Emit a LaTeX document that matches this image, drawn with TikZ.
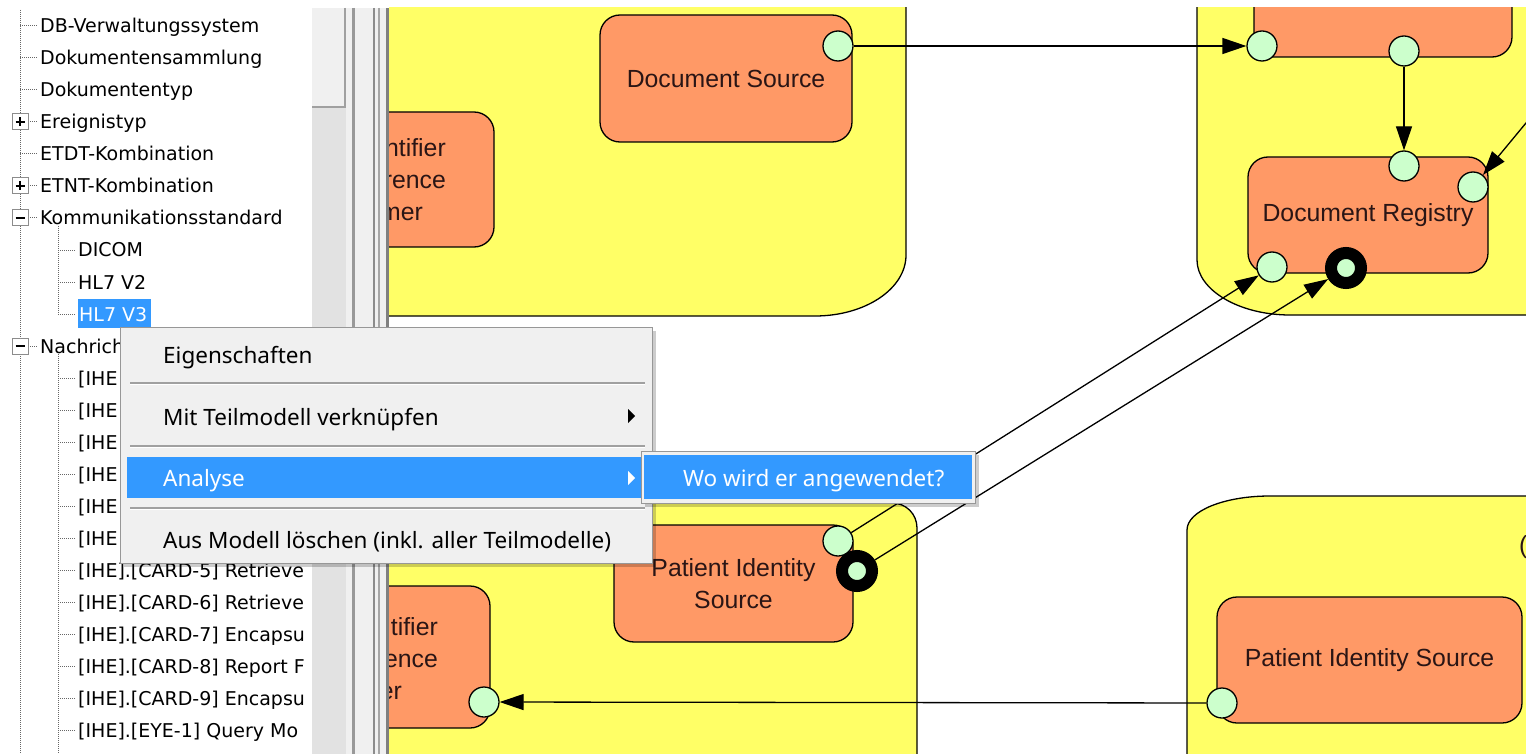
\documentclass[tikz,border=0pt]{standalone}
\usepackage{fontspec}
\setmainfont{Liberation Sans}
\newfontfamily\baumschrift{DejaVu Sans}
\newfontfamily\menueschrift{Noto Sans}
\usetikzlibrary{arrows.meta,positioning,calc}
\definecolor{mygelb}{HTML}{FFFF66}
\definecolor{mylachs}{HTML}{FF9966}
\definecolor{mygruen}{HTML}{CCFFCC}
\definecolor{myblau}{HTML}{3399FF}
\definecolor{mymenue}{HTML}{F0F0F0}
\definecolor{myrand}{HTML}{979797}
\definecolor{myspur}{HTML}{E2E2E2}
\definecolor{mytrenner}{HTML}{A0A0A0}
\definecolor{myschrift}{HTML}{2A1515}
\tikzset{
  behaelter/.style={draw=black, line width=1.3pt, fill=mygelb},
  akteur/.style={draw=black, line width=1.3pt, fill=mylachs, rounded corners=20pt, align=center, inner sep=0pt, text=myschrift, font=\fontsize{24.8}{32}\selectfont},
  akteurtext/.style={inner sep=0pt, align=right, text=myschrift, font=\fontsize{24.8}{32}\selectfont},
  anschluss/.style={circle, draw=black, line width=1.3pt, fill=mygruen, minimum size=30pt, inner sep=0pt},
  ring/.style={circle, draw=black, line width=12pt, fill=mygruen, minimum size=30pt, inner sep=0pt},
  pfeil/.style={draw=black, line width=1.3pt, -{Triangle[length=24pt,width=16pt]}},
  baumtext/.style={anchor=base west, inner sep=0pt, font=\baumschrift\fontsize{19}{22}\selectfont},
  baumlinie/.style={draw=black!60, line width=1pt, dash pattern=on 1pt off 1pt},
  knopf/.style={draw=black!45, fill=white, line width=1pt, minimum size=16pt, inner sep=0pt},
  menuetext/.style={anchor=base west, inner sep=0pt, font=\menueschrift\fontsize{22.5}{26}\selectfont},
  trenner/.style={draw=mytrenner, line width=1.2pt},
}
\begin{document}
\begin{tikzpicture}[x=1pt, y=-1pt]
		%% Groesse des Bildes festlegen, weisser Hintergrund
		\useasboundingbox[fill=white] (0,0) rectangle (1526,754);
		%% Baum links, alles rechts von der Bildlaufleiste wird abgeschnitten
		\begin{scope}
			\clip (0,8) rectangle (312,754);
			\draw[baumlinie] (20,10) -- (20,754);
			\draw[baumlinie] (58,226) -- (58,314) (58,354) -- (58,754);
			\draw[baumlinie] (20,26) -- (38,26) (20,58) -- (38,58) (20,90) -- (38,90) (28,122) -- (38,122) (20,154) -- (38,154) (28,186) -- (38,186) (28,218) -- (38,218) (28,346) -- (38,346);
			\draw[baumlinie] (58,250) -- (76,250) (58,282) -- (76,282) (58,314) -- (76,314) (58,378) -- (76,378) (58,410) -- (76,410) (58,442) -- (76,442) (58,474) -- (76,474) (58,506) -- (76,506) (58,538) -- (76,538) (58,570) -- (76,570) (58,602) -- (76,602) (58,634) -- (76,634) (58,666) -- (76,666) (58,698) -- (76,698) (58,730) -- (76,730);
			%% Knoepfe zum Auf- und Zuklappen
			\node[knopf] (kereignis) at (20,122) {};
			\draw[line width=1.6pt] (15.5,122) -- (24.5,122) (20,117.5) -- (20,126.5);
			\node[knopf] (ketnt) at (20,186) {};
			\draw[line width=1.6pt] (15.5,186) -- (24.5,186) (20,181.5) -- (20,190.5);
			\node[knopf] (kkomm) at (20,218) {};
			\draw[line width=1.6pt] (15.5,218) -- (24.5,218);
			\node[knopf] (knachr) at (20,346) {};
			\draw[line width=1.6pt] (15.5,346) -- (24.5,346);
			%% Eintraege
			\node[baumtext] (dbvs) at (40,33) {DB-Verwaltungssystem};
			\node[baumtext] (doksamm) at (40,65) {Dokumentensammlung};
			\node[baumtext] (doktyp) at (40,97) {Dokumententyp};
			\node[baumtext] (ereignis) at (40,129) {Ereignistyp};
			\node[baumtext] (etdt) at (40,161) {ETDT-Kombination};
			\node[baumtext] (etnt) at (40,193) {ETNT-Kombination};
			\node[baumtext] (komm) at (40,225) {Kommunikationsstandard};
			\node[baumtext] (dicom) at (78,257) {DICOM};
			\node[baumtext] (hlzwei) at (78,289) {HL7 V2};
			\fill[myblau] (78,299) rectangle (151,328);
			\node[baumtext, text=white] (hldrei) at (79,321) {HL7 V3};
			\node[baumtext] (nachr) at (40,353) {Nachrich};
			\node[baumtext] (iheeins) at (78,385) {[IHE};
			\node[baumtext] (ihezwei) at (78,417) {[IHE};
			\node[baumtext] (ihedrei) at (78,449) {[IHE};
			\node[baumtext] (ihevier) at (78,481) {[IHE};
			\node[baumtext] (ihefuenf) at (78,513) {[IHE};
			\node[baumtext] (ihesechs) at (78,545) {[IHE};
			\node[baumtext] (cardfuenf) at (78,577) {[IHE].[CARD-5] Retrieve};
			\node[baumtext] (cardsechs) at (78,609) {[IHE].[CARD-6] Retrieve};
			\node[baumtext] (cardsieben) at (78,641) {[IHE].[CARD-7] Encapsu};
			\node[baumtext] (cardacht) at (78,673) {[IHE].[CARD-8] Report F};
			\node[baumtext] (cardneun) at (78,705) {[IHE].[CARD-9] Encapsu};
			\node[baumtext] (eyeeins) at (78,737) {[IHE].[EYE-1] Query Mo};
		\end{scope}
		%% Bildlaufleiste und Trennleiste
		\fill[myspur] (312,8) rectangle (346,754);
		\fill[mymenue] (312,8) rectangle (345,107);
		\draw[mytrenner, line width=2pt] (345,8) -- (345,107) -- (312,107);
		\fill[mymenue] (346,8) rectangle (389,754);
		\draw[black!40, line width=2.5pt] (353.5,8) -- (353.5,754);
		\draw[black!45, line width=2pt] (374,8) -- (374,754);
		\draw[black!35, line width=2pt] (378.5,8) -- (378.5,754);
		\draw[black!50, line width=2.5pt] (387.5,8) -- (387.5,754);
		%% Diagramm rechts
		\begin{scope}
			\clip (389,8) rectangle (1526,754);
			%% gelbe Behaelter
			\draw[behaelter] (370,-10) -- (906,-10) -- (906,255) .. controls (906,289) and (865,316) .. (815,316) -- (370,316) -- cycle;
			\draw[behaelter] (1545,-10) -- (1197,-10) -- (1197,260) .. controls (1197,290) and (1239,315) .. (1290,315) -- (1545,315) -- cycle;
			\draw[behaelter] (370,503) -- (892,503) .. controls (906,503) and (917,514) .. (917,528) -- (917,770) -- (370,770) -- cycle;
			\draw[behaelter] (1545,496) -- (1270,496) .. controls (1224,496) and (1187,511) .. (1187,530) -- (1187,770) -- (1545,770) -- cycle;
			\node[anchor=west, inner sep=0pt, text=myschrift, font=\fontsize{24.8}{32}\selectfont] (klammer) at (1519,547) {(};
			%% Akteure
			\node[akteur, minimum width=272pt, minimum height=135pt] (pixoben) at (358,179.5) {};
			\node[akteurtext, anchor=east] (pixobentext) at (446,180) {ntifier\\rence\\mer\hspace*{23pt}};
			\node[akteur, minimum width=252pt, minimum height=127pt] (docsrc) at (726,78.5) {Document Source};
			\node[akteur, minimum width=258pt, minimum height=100pt] (repo) at (1383,7) {};
			\node[akteur, minimum width=240pt, minimum height=116pt] (registry) at (1368,215) {Document Registry};
			\node[akteur, minimum width=239pt, minimum height=117pt] (pislinks) at (733.5,583.5) {Patient Identity\\Source};
			\node[akteur, minimum width=280pt, minimum height=142pt] (pixunten) at (350,657) {};
			\node[akteurtext, anchor=east] (pixuntentext) at (438,659) {tifier\\ence\\mer\hspace*{36pt}};
			\node[akteur, minimum width=305pt, minimum height=126pt] (pisrechts) at (1369.5,660) {Patient Identity Source};
			%% Anschluesse
			\node[anschluss] (dsaus) at (838,46) {};
			\node[anschluss] (repoein) at (1262,46) {};
			\node[anschluss] (repoaus) at (1404,51) {};
			\node[anschluss] (regoben) at (1404,166) {};
			\node[anschluss] (regrechts) at (1473,187) {};
			\node[anschluss] (reglinks) at (1272,267) {};
			\node[ring] (regring) at (1346,268) {};
			\node[anschluss] (pisaus) at (838,541) {};
			\node[ring] (pisring) at (857,571) {};
			\node[anschluss] (pixein) at (484,702) {};
			\node[anschluss] (pisrechtsaus) at (1222,703) {};
			\coordinate (rechtsaussen) at (1545,100);
			%% Verbindungen
			\draw[pfeil] (dsaus) -- (repoein);
			\draw[pfeil] (repoaus) -- (regoben);
			\draw[pfeil] (rechtsaussen) -- (regrechts);
			\draw[pfeil] (pisaus) -- (reglinks);
			\draw[pfeil] (pisring) -- (regring);
			\draw[pfeil] (pisrechtsaus) -- (pixein);
		\end{scope}
		%% Kontextmenue mit Schatten
		\fill[black, opacity=.2] (124,331) rectangle (656,567);
		\draw[fill=mymenue, draw=myrand, line width=1pt] (120,327) rectangle (652,563);
		\draw[trenner] (130,383) -- (645,383) (130,446) -- (645,446) (130,508) -- (645,508);
		\draw[white, line width=1pt] (130,384.5) -- (645,384.5) (130,447.5) -- (645,447.5) (130,509.5) -- (645,509.5);
		\fill[myblau] (127,457) rectangle (647,498);
		\node[menuetext] (eigen) at (163,363) {Eigenschaften};
		\node[menuetext] (teilmodell) at (163,425) {Mit Teilmodell verknüpfen};
		\node[menuetext, text=white] (analyse) at (163,486) {Analyse};
		\node[menuetext] (loeschen) at (163,548) {Aus Modell löschen (inkl. aller Teilmodelle)};
		\fill[black] (628,409) -- (635,416) -- (628,423) -- cycle;
		\fill[white] (628,471) -- (635,478) -- (628,485) -- cycle;
		%% Untermenue
		\fill[black, opacity=.2] (645,455) rectangle (979,507);
		\draw[fill=mymenue, draw=myrand, line width=1pt] (641,451) rectangle (975,503);
		\fill[myblau] (644,455) rectangle (972,499);
		\node[menuetext, text=white] (wo) at (683,486) {Wo wird er angewendet?};
	\end{tikzpicture}
\end{document}
